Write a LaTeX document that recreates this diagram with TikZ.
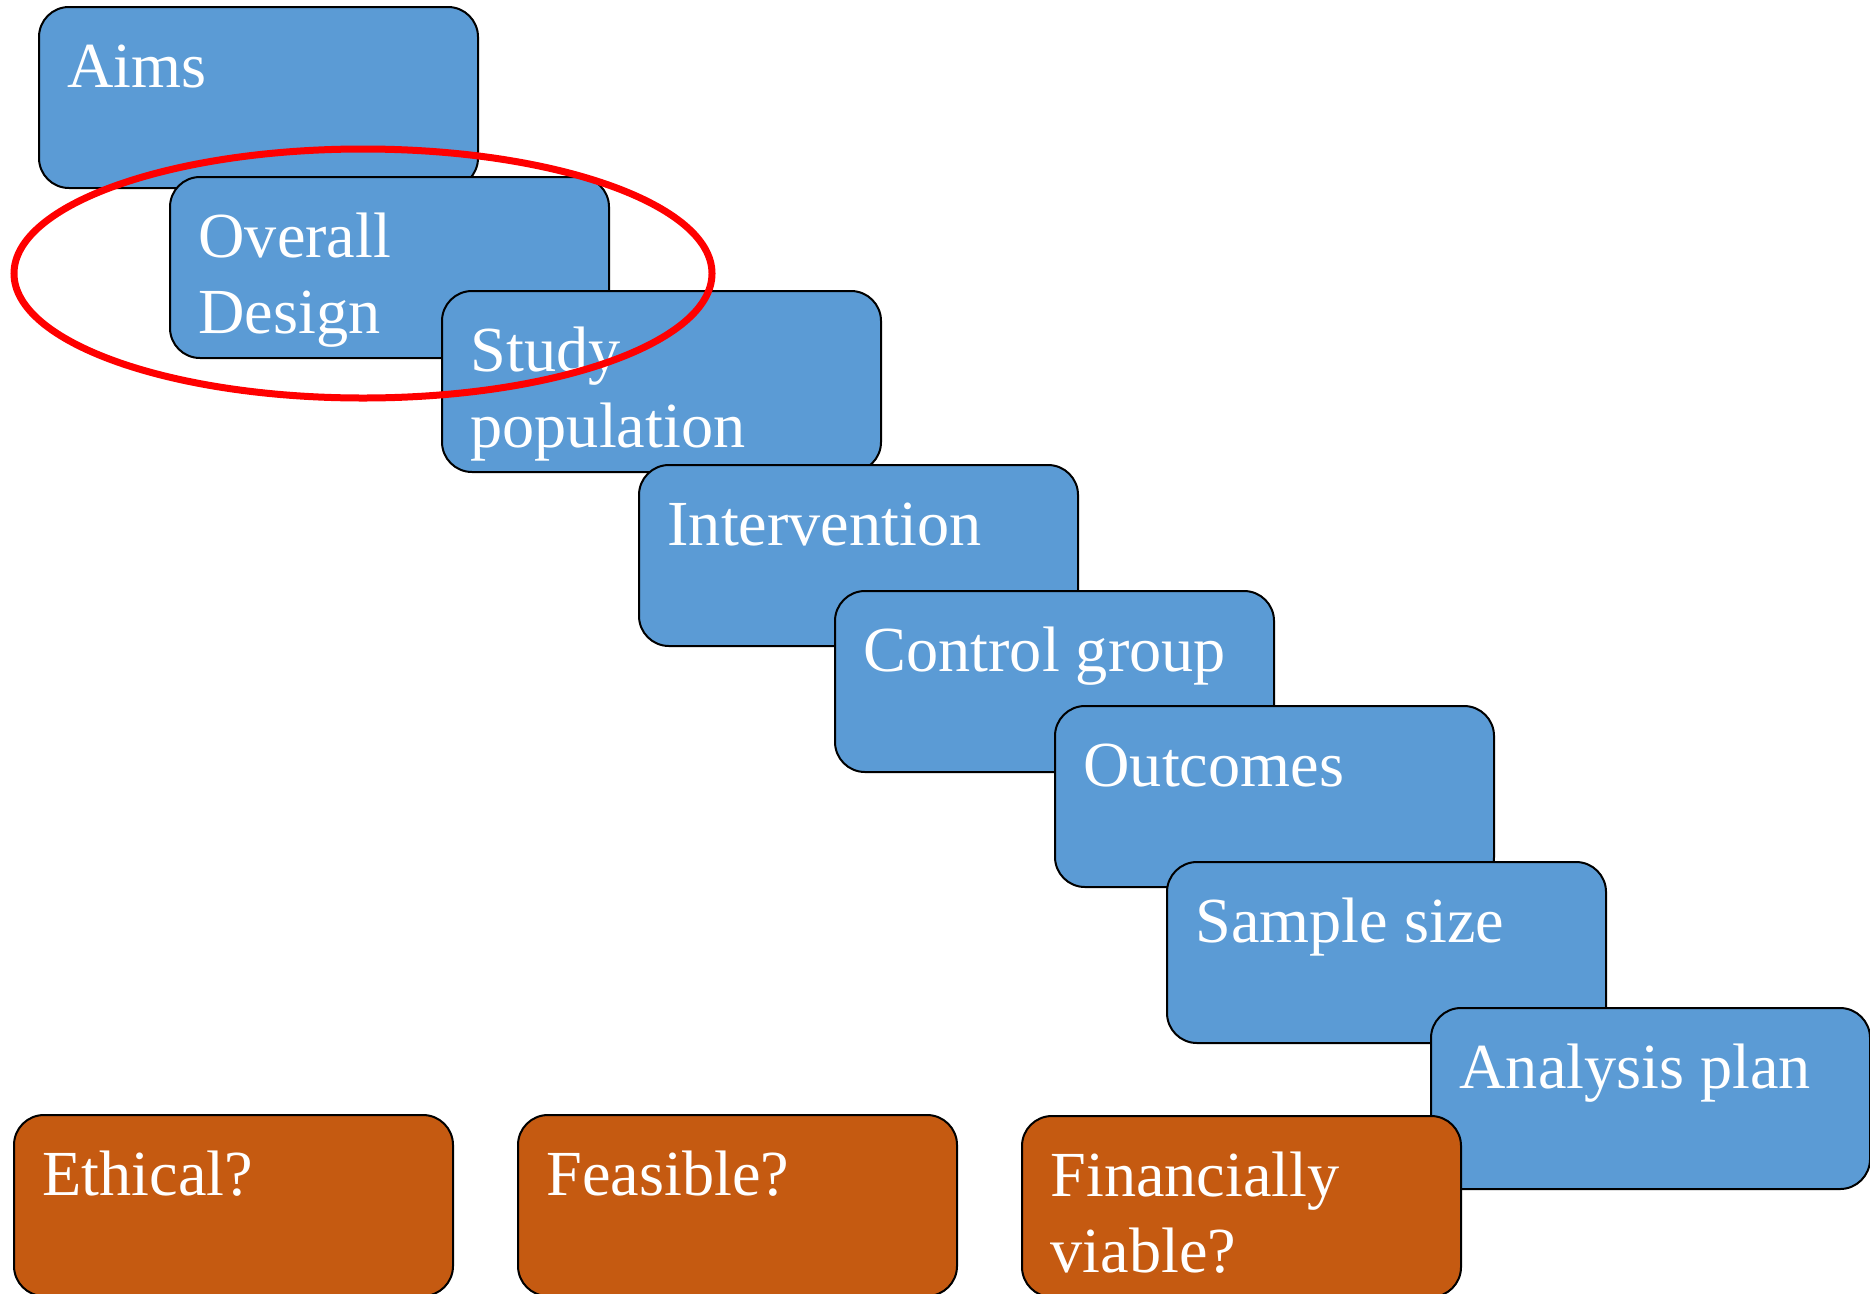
\documentclass[tikz,border=0pt]{standalone}
\usepackage{fontspec}
\setmainfont{Liberation Serif}
\definecolor{cardblue}{HTML}{5B9BD5}
\definecolor{cardorange}{HTML}{C55A11}
\definecolor{ringred}{HTML}{FF0000}
\begin{document}
\begin{tikzpicture}[x=0.4pt,y=-0.4pt,
  card/.style={draw=black, line width=0.8pt, rounded corners=12pt, inner sep=0pt,
    minimum width=175.6pt, minimum height=72.4pt, anchor=north west},
  bluecard/.style={card, fill=cardblue},
  orangecard/.style={card, fill=cardorange},
  lbl/.style={text=white, font=\fontsize{25.7}{30.4}\selectfont, anchor=base west,
    inner sep=0pt, align=left}]
\path[use as bounding box] (0,0) rectangle (1870,1293);
\node[bluecard] (aims) at (38,6) {};
\node[lbl] (aimsT) at ([shift={(29,81)}]aims.north west) {Aims};
\node[bluecard] (design) at (169,176) {};
\node[lbl] (designT) at ([shift={(29,157)}]design.north west) {Overall\\Design};
\node[bluecard] (pop) at (441,290) {};
\node[lbl] (popT) at ([shift={(29,157)}]pop.north west) {Study\\population};
\node[bluecard] (interv) at (638,464) {};
\node[lbl] (intervT) at ([shift={(29,81)}]interv.north west) {Intervention};
\node[bluecard] (control) at (834,590) {};
\node[lbl] (controlT) at ([shift={(29,81)}]control.north west) {Control group};
\node[bluecard] (outc) at (1054,705) {};
\node[lbl] (outcT) at ([shift={(29,81)}]outc.north west) {Outcomes};
\node[bluecard] (sample) at (1166,861) {};
\node[lbl] (sampleT) at ([shift={(29,81)}]sample.north west) {Sample size};
\node[bluecard] (anal) at (1430,1007) {};
\node[lbl] (analT) at ([shift={(29,81)}]anal.north west) {Analysis plan};
\node[orangecard] (eth) at (13,1114) {};
\node[lbl] (ethT) at ([shift={(29,81)}]eth.north west) {Ethical?};
\node[orangecard] (feas) at (517,1114) {};
\node[lbl] (feasT) at ([shift={(29,81)}]feas.north west) {Feasible?};
\node[orangecard] (fin) at (1021,1115) {};
\node[lbl] (finT) at ([shift={(29,157)}]fin.north west) {Financially\\viable?};
\draw[ringred, line width=2.8pt] (363,273.5) ellipse [x radius=139.6pt, y radius=49.8pt];
\end{tikzpicture}
\end{document}
